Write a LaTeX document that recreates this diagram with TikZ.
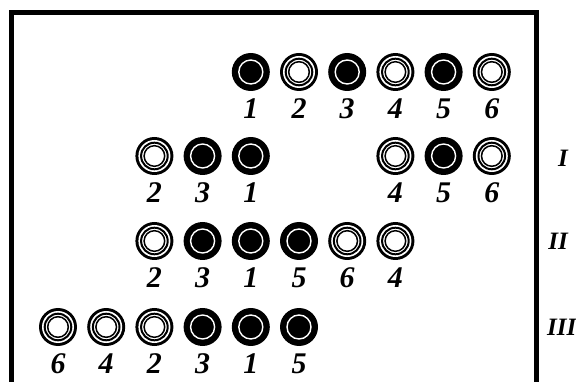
\documentclass[tikz,border=0pt]{standalone}
\usepackage{fontspec}
\setmainfont{Liberation Serif}
\usetikzlibrary{positioning}

\begin{document}
\begin{tikzpicture}[
  x=1pt, y=-1pt,
  disc/.style={circle, minimum size=38pt, inner sep=0pt, fill=black},
  blackdisc/.style={disc, path picture={\draw[white, line width=1.4pt] (path picture bounding box.center) circle (12pt);}},
  whitedisc/.style={disc, path picture={
      \fill[white] (path picture bounding box.center) circle (16pt);
      \draw[line width=2pt] (path picture bounding box.center) circle (13.3pt);
      \draw[line width=1.5pt] (path picture bounding box.center) circle (10.3pt);}},
  num/.style={font=\fontsize{30}{32}\selectfont\bfseries\itshape, inner sep=0pt},
  rowlbl/.style={font=\fontsize{25}{28}\selectfont\bfseries\itshape, inner sep=0pt}
]
  \clip (0,0) rectangle (576,382);
  \useasboundingbox (0,0) rectangle (576,382);
  \draw[line width=5pt, line cap=round] (11,395) -- (11,13) -- (536,13) -- (536,395);
  % rows: column / number / row
  \foreach \c/\n/\r/\y in {4/1/0/72, 5/2/0/72, 6/3/0/72, 7/4/0/72, 8/5/0/72, 9/6/0/72,
                           2/2/1/156, 3/3/1/156, 4/1/1/156, 7/4/1/156, 8/5/1/156, 9/6/1/156,
                           2/2/2/241, 3/3/2/241, 4/1/2/241, 5/5/2/241, 6/6/2/241, 7/4/2/241,
                           0/6/3/327, 1/4/3/327, 2/2/3/327, 3/3/3/327, 4/1/3/327, 5/5/3/327} {
    \pgfmathsetmacro{\xx}{58+48.2*\c}
    \pgfmathtruncatemacro{\odd}{mod(\n,2)}
    \ifnum\odd=1
      \node[blackdisc] (r\r n\n) at (\xx,\y) {};
    \else
      \node[whitedisc] (r\r n\n) at (\xx,\y) {};
    \fi
    \node[num, below=7pt of r\r n\n] (r\r n\n-lbl) {\n};
  }
  \node[rowlbl] (rowI)   at (563,158) {I};
  \node[rowlbl] (rowII)  at (558,241) {II};
  \node[rowlbl, anchor=west] (rowIII) at (547,327) {III};
\end{tikzpicture}
\end{document}
